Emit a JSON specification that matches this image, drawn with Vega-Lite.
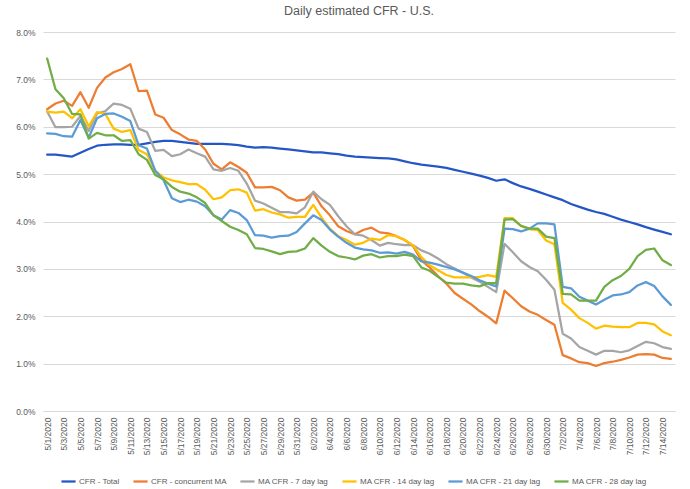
{
  "$schema": "https://vega.github.io/schema/vega-lite/v6.json",
  "width": 632,
  "height": 379,
  "autosize": {"type": "none"},
  "padding": {"left": 43, "top": 32, "right": 15, "bottom": 78},
  "background": "white",
  "title": {"text": "Daily estimated CFR - U.S.", "font": "Liberation Sans", "fontSize": 12.5, "fontWeight": "normal", "color": "#595959", "offset": 11, "anchor": "middle"},
  "config": {"view": {"stroke": null}, "font": "Liberation Sans"},
  "data": {"values": [
    {"d":"5/1/2020","CFR - Total":5.41,"CFR - concurrent MA":6.37,"MA CFR - 7 day lag":6.32,"MA CFR - 14 day lag":6.32,"MA CFR - 21 day lag":5.86,"MA CFR - 28 day lag":7.44},
    {"d":"5/2/2020","CFR - Total":5.41,"CFR - concurrent MA":6.49,"MA CFR - 7 day lag":5.99,"MA CFR - 14 day lag":6.30,"MA CFR - 21 day lag":5.85,"MA CFR - 28 day lag":6.79},
    {"d":"5/3/2020","CFR - Total":5.39,"CFR - concurrent MA":6.55,"MA CFR - 7 day lag":5.99,"MA CFR - 14 day lag":6.32,"MA CFR - 21 day lag":5.80,"MA CFR - 28 day lag":6.60},
    {"d":"5/4/2020","CFR - Total":5.37,"CFR - concurrent MA":6.44,"MA CFR - 7 day lag":6.00,"MA CFR - 14 day lag":6.18,"MA CFR - 21 day lag":5.79,"MA CFR - 28 day lag":6.27},
    {"d":"5/5/2020","CFR - Total":5.45,"CFR - concurrent MA":6.73,"MA CFR - 7 day lag":6.23,"MA CFR - 14 day lag":6.37,"MA CFR - 21 day lag":6.14,"MA CFR - 28 day lag":6.26},
    {"d":"5/6/2020","CFR - Total":5.53,"CFR - concurrent MA":6.40,"MA CFR - 7 day lag":5.91,"MA CFR - 14 day lag":6.01,"MA CFR - 21 day lag":5.77,"MA CFR - 28 day lag":5.75},
    {"d":"5/7/2020","CFR - Total":5.60,"CFR - concurrent MA":6.82,"MA CFR - 7 day lag":6.28,"MA CFR - 14 day lag":6.31,"MA CFR - 21 day lag":6.18,"MA CFR - 28 day lag":5.87},
    {"d":"5/8/2020","CFR - Total":5.62,"CFR - concurrent MA":7.04,"MA CFR - 7 day lag":6.33,"MA CFR - 14 day lag":6.27,"MA CFR - 21 day lag":6.27,"MA CFR - 28 day lag":5.82},
    {"d":"5/9/2020","CFR - Total":5.63,"CFR - concurrent MA":7.15,"MA CFR - 7 day lag":6.49,"MA CFR - 14 day lag":5.96,"MA CFR - 21 day lag":6.28,"MA CFR - 28 day lag":5.82},
    {"d":"5/10/2020","CFR - Total":5.63,"CFR - concurrent MA":7.22,"MA CFR - 7 day lag":6.46,"MA CFR - 14 day lag":5.89,"MA CFR - 21 day lag":6.21,"MA CFR - 28 day lag":5.70},
    {"d":"5/11/2020","CFR - Total":5.62,"CFR - concurrent MA":7.32,"MA CFR - 7 day lag":6.38,"MA CFR - 14 day lag":5.93,"MA CFR - 21 day lag":6.12,"MA CFR - 28 day lag":5.72},
    {"d":"5/12/2020","CFR - Total":5.62,"CFR - concurrent MA":6.75,"MA CFR - 7 day lag":5.96,"MA CFR - 14 day lag":5.51,"MA CFR - 21 day lag":5.61,"MA CFR - 28 day lag":5.42},
    {"d":"5/13/2020","CFR - Total":5.65,"CFR - concurrent MA":6.76,"MA CFR - 7 day lag":5.89,"MA CFR - 14 day lag":5.42,"MA CFR - 21 day lag":5.54,"MA CFR - 28 day lag":5.30},
    {"d":"5/14/2020","CFR - Total":5.68,"CFR - concurrent MA":6.26,"MA CFR - 7 day lag":5.49,"MA CFR - 14 day lag":5.07,"MA CFR - 21 day lag":5.07,"MA CFR - 28 day lag":4.98},
    {"d":"5/15/2020","CFR - Total":5.70,"CFR - concurrent MA":6.19,"MA CFR - 7 day lag":5.51,"MA CFR - 14 day lag":4.93,"MA CFR - 21 day lag":4.87,"MA CFR - 28 day lag":4.89},
    {"d":"5/16/2020","CFR - Total":5.70,"CFR - concurrent MA":5.93,"MA CFR - 7 day lag":5.38,"MA CFR - 14 day lag":4.87,"MA CFR - 21 day lag":4.49,"MA CFR - 28 day lag":4.73},
    {"d":"5/17/2020","CFR - Total":5.68,"CFR - concurrent MA":5.84,"MA CFR - 7 day lag":5.42,"MA CFR - 14 day lag":4.83,"MA CFR - 21 day lag":4.41,"MA CFR - 28 day lag":4.63},
    {"d":"5/18/2020","CFR - Total":5.66,"CFR - concurrent MA":5.73,"MA CFR - 7 day lag":5.52,"MA CFR - 14 day lag":4.79,"MA CFR - 21 day lag":4.46,"MA CFR - 28 day lag":4.59},
    {"d":"5/19/2020","CFR - Total":5.64,"CFR - concurrent MA":5.70,"MA CFR - 7 day lag":5.44,"MA CFR - 14 day lag":4.79,"MA CFR - 21 day lag":4.42,"MA CFR - 28 day lag":4.51},
    {"d":"5/20/2020","CFR - Total":5.64,"CFR - concurrent MA":5.52,"MA CFR - 7 day lag":5.37,"MA CFR - 14 day lag":4.67,"MA CFR - 21 day lag":4.32,"MA CFR - 28 day lag":4.39},
    {"d":"5/21/2020","CFR - Total":5.64,"CFR - concurrent MA":5.22,"MA CFR - 7 day lag":5.10,"MA CFR - 14 day lag":4.47,"MA CFR - 21 day lag":4.13,"MA CFR - 28 day lag":4.13},
    {"d":"5/22/2020","CFR - Total":5.64,"CFR - concurrent MA":5.10,"MA CFR - 7 day lag":5.07,"MA CFR - 14 day lag":4.51,"MA CFR - 21 day lag":4.04,"MA CFR - 28 day lag":4.01},
    {"d":"5/23/2020","CFR - Total":5.63,"CFR - concurrent MA":5.25,"MA CFR - 7 day lag":5.13,"MA CFR - 14 day lag":4.66,"MA CFR - 21 day lag":4.24,"MA CFR - 28 day lag":3.89},
    {"d":"5/24/2020","CFR - Total":5.61,"CFR - concurrent MA":5.15,"MA CFR - 7 day lag":5.07,"MA CFR - 14 day lag":4.68,"MA CFR - 21 day lag":4.18,"MA CFR - 28 day lag":3.82},
    {"d":"5/25/2020","CFR - Total":5.58,"CFR - concurrent MA":5.03,"MA CFR - 7 day lag":4.80,"MA CFR - 14 day lag":4.61,"MA CFR - 21 day lag":4.03,"MA CFR - 28 day lag":3.73},
    {"d":"5/26/2020","CFR - Total":5.56,"CFR - concurrent MA":4.72,"MA CFR - 7 day lag":4.44,"MA CFR - 14 day lag":4.23,"MA CFR - 21 day lag":3.71,"MA CFR - 28 day lag":3.44},
    {"d":"5/27/2020","CFR - Total":5.57,"CFR - concurrent MA":4.72,"MA CFR - 7 day lag":4.38,"MA CFR - 14 day lag":4.26,"MA CFR - 21 day lag":3.70,"MA CFR - 28 day lag":3.42},
    {"d":"5/28/2020","CFR - Total":5.56,"CFR - concurrent MA":4.73,"MA CFR - 7 day lag":4.29,"MA CFR - 14 day lag":4.19,"MA CFR - 21 day lag":3.66,"MA CFR - 28 day lag":3.37},
    {"d":"5/29/2020","CFR - Total":5.54,"CFR - concurrent MA":4.66,"MA CFR - 7 day lag":4.20,"MA CFR - 14 day lag":4.15,"MA CFR - 21 day lag":3.69,"MA CFR - 28 day lag":3.31},
    {"d":"5/30/2020","CFR - Total":5.52,"CFR - concurrent MA":4.51,"MA CFR - 7 day lag":4.20,"MA CFR - 14 day lag":4.08,"MA CFR - 21 day lag":3.70,"MA CFR - 28 day lag":3.36},
    {"d":"5/31/2020","CFR - Total":5.50,"CFR - concurrent MA":4.44,"MA CFR - 7 day lag":4.17,"MA CFR - 14 day lag":4.10,"MA CFR - 21 day lag":3.78,"MA CFR - 28 day lag":3.37},
    {"d":"6/1/2020","CFR - Total":5.48,"CFR - concurrent MA":4.46,"MA CFR - 7 day lag":4.30,"MA CFR - 14 day lag":4.10,"MA CFR - 21 day lag":3.96,"MA CFR - 28 day lag":3.43},
    {"d":"6/2/2020","CFR - Total":5.46,"CFR - concurrent MA":4.61,"MA CFR - 7 day lag":4.63,"MA CFR - 14 day lag":4.35,"MA CFR - 21 day lag":4.13,"MA CFR - 28 day lag":3.65},
    {"d":"6/3/2020","CFR - Total":5.46,"CFR - concurrent MA":4.32,"MA CFR - 7 day lag":4.47,"MA CFR - 14 day lag":4.08,"MA CFR - 21 day lag":4.03,"MA CFR - 28 day lag":3.49},
    {"d":"6/4/2020","CFR - Total":5.44,"CFR - concurrent MA":4.13,"MA CFR - 7 day lag":4.35,"MA CFR - 14 day lag":3.85,"MA CFR - 21 day lag":3.83,"MA CFR - 28 day lag":3.36},
    {"d":"6/5/2020","CFR - Total":5.42,"CFR - concurrent MA":3.90,"MA CFR - 7 day lag":4.11,"MA CFR - 14 day lag":3.69,"MA CFR - 21 day lag":3.68,"MA CFR - 28 day lag":3.27},
    {"d":"6/6/2020","CFR - Total":5.39,"CFR - concurrent MA":3.80,"MA CFR - 7 day lag":3.90,"MA CFR - 14 day lag":3.61,"MA CFR - 21 day lag":3.55,"MA CFR - 28 day lag":3.24},
    {"d":"6/7/2020","CFR - Total":5.37,"CFR - concurrent MA":3.73,"MA CFR - 7 day lag":3.73,"MA CFR - 14 day lag":3.51,"MA CFR - 21 day lag":3.45,"MA CFR - 28 day lag":3.20},
    {"d":"6/8/2020","CFR - Total":5.36,"CFR - concurrent MA":3.82,"MA CFR - 7 day lag":3.70,"MA CFR - 14 day lag":3.55,"MA CFR - 21 day lag":3.41,"MA CFR - 28 day lag":3.28},
    {"d":"6/9/2020","CFR - Total":5.35,"CFR - concurrent MA":3.87,"MA CFR - 7 day lag":3.61,"MA CFR - 14 day lag":3.64,"MA CFR - 21 day lag":3.39,"MA CFR - 28 day lag":3.31},
    {"d":"6/10/2020","CFR - Total":5.34,"CFR - concurrent MA":3.77,"MA CFR - 7 day lag":3.49,"MA CFR - 14 day lag":3.61,"MA CFR - 21 day lag":3.34,"MA CFR - 28 day lag":3.24},
    {"d":"6/11/2020","CFR - Total":5.33,"CFR - concurrent MA":3.75,"MA CFR - 7 day lag":3.55,"MA CFR - 14 day lag":3.71,"MA CFR - 21 day lag":3.35,"MA CFR - 28 day lag":3.27},
    {"d":"6/12/2020","CFR - Total":5.31,"CFR - concurrent MA":3.69,"MA CFR - 7 day lag":3.52,"MA CFR - 14 day lag":3.69,"MA CFR - 21 day lag":3.32,"MA CFR - 28 day lag":3.27},
    {"d":"6/13/2020","CFR - Total":5.27,"CFR - concurrent MA":3.61,"MA CFR - 7 day lag":3.50,"MA CFR - 14 day lag":3.61,"MA CFR - 21 day lag":3.36,"MA CFR - 28 day lag":3.30},
    {"d":"6/14/2020","CFR - Total":5.23,"CFR - concurrent MA":3.48,"MA CFR - 7 day lag":3.50,"MA CFR - 14 day lag":3.50,"MA CFR - 21 day lag":3.30,"MA CFR - 28 day lag":3.27},
    {"d":"6/15/2020","CFR - Total":5.20,"CFR - concurrent MA":3.18,"MA CFR - 7 day lag":3.39,"MA CFR - 14 day lag":3.25,"MA CFR - 21 day lag":3.16,"MA CFR - 28 day lag":3.03},
    {"d":"6/16/2020","CFR - Total":5.18,"CFR - concurrent MA":3.03,"MA CFR - 7 day lag":3.32,"MA CFR - 14 day lag":3.08,"MA CFR - 21 day lag":3.13,"MA CFR - 28 day lag":2.96},
    {"d":"6/17/2020","CFR - Total":5.16,"CFR - concurrent MA":2.85,"MA CFR - 7 day lag":3.22,"MA CFR - 14 day lag":2.97,"MA CFR - 21 day lag":3.09,"MA CFR - 28 day lag":2.83},
    {"d":"6/18/2020","CFR - Total":5.13,"CFR - concurrent MA":2.69,"MA CFR - 7 day lag":3.10,"MA CFR - 14 day lag":2.87,"MA CFR - 21 day lag":3.04,"MA CFR - 28 day lag":2.71},
    {"d":"6/19/2020","CFR - Total":5.09,"CFR - concurrent MA":2.49,"MA CFR - 7 day lag":3.01,"MA CFR - 14 day lag":2.82,"MA CFR - 21 day lag":2.99,"MA CFR - 28 day lag":2.69},
    {"d":"6/20/2020","CFR - Total":5.05,"CFR - concurrent MA":2.37,"MA CFR - 7 day lag":2.92,"MA CFR - 14 day lag":2.82,"MA CFR - 21 day lag":2.92,"MA CFR - 28 day lag":2.69},
    {"d":"6/21/2020","CFR - Total":5.01,"CFR - concurrent MA":2.25,"MA CFR - 7 day lag":2.82,"MA CFR - 14 day lag":2.82,"MA CFR - 21 day lag":2.85,"MA CFR - 28 day lag":2.65},
    {"d":"6/22/2020","CFR - Total":4.97,"CFR - concurrent MA":2.11,"MA CFR - 7 day lag":2.73,"MA CFR - 14 day lag":2.83,"MA CFR - 21 day lag":2.76,"MA CFR - 28 day lag":2.63},
    {"d":"6/23/2020","CFR - Total":4.92,"CFR - concurrent MA":1.99,"MA CFR - 7 day lag":2.62,"MA CFR - 14 day lag":2.87,"MA CFR - 21 day lag":2.69,"MA CFR - 28 day lag":2.70},
    {"d":"6/24/2020","CFR - Total":4.86,"CFR - concurrent MA":1.85,"MA CFR - 7 day lag":2.51,"MA CFR - 14 day lag":2.83,"MA CFR - 21 day lag":2.63,"MA CFR - 28 day lag":2.70},
    {"d":"6/25/2020","CFR - Total":4.89,"CFR - concurrent MA":2.54,"MA CFR - 7 day lag":3.53,"MA CFR - 14 day lag":4.07,"MA CFR - 21 day lag":3.85,"MA CFR - 28 day lag":4.04},
    {"d":"6/26/2020","CFR - Total":4.81,"CFR - concurrent MA":2.38,"MA CFR - 7 day lag":3.35,"MA CFR - 14 day lag":4.07,"MA CFR - 21 day lag":3.84,"MA CFR - 28 day lag":4.05},
    {"d":"6/27/2020","CFR - Total":4.74,"CFR - concurrent MA":2.21,"MA CFR - 7 day lag":3.16,"MA CFR - 14 day lag":3.90,"MA CFR - 21 day lag":3.79,"MA CFR - 28 day lag":3.91},
    {"d":"6/28/2020","CFR - Total":4.69,"CFR - concurrent MA":2.10,"MA CFR - 7 day lag":3.04,"MA CFR - 14 day lag":3.84,"MA CFR - 21 day lag":3.85,"MA CFR - 28 day lag":3.85},
    {"d":"6/29/2020","CFR - Total":4.63,"CFR - concurrent MA":2.03,"MA CFR - 7 day lag":2.95,"MA CFR - 14 day lag":3.82,"MA CFR - 21 day lag":3.96,"MA CFR - 28 day lag":3.85},
    {"d":"6/30/2020","CFR - Total":4.57,"CFR - concurrent MA":1.92,"MA CFR - 7 day lag":2.77,"MA CFR - 14 day lag":3.60,"MA CFR - 21 day lag":3.96,"MA CFR - 28 day lag":3.68},
    {"d":"7/1/2020","CFR - Total":4.51,"CFR - concurrent MA":1.82,"MA CFR - 7 day lag":2.56,"MA CFR - 14 day lag":3.52,"MA CFR - 21 day lag":3.94,"MA CFR - 28 day lag":3.65},
    {"d":"7/2/2020","CFR - Total":4.45,"CFR - concurrent MA":1.18,"MA CFR - 7 day lag":1.63,"MA CFR - 14 day lag":2.28,"MA CFR - 21 day lag":2.62,"MA CFR - 28 day lag":2.47},
    {"d":"7/3/2020","CFR - Total":4.37,"CFR - concurrent MA":1.11,"MA CFR - 7 day lag":1.53,"MA CFR - 14 day lag":2.14,"MA CFR - 21 day lag":2.59,"MA CFR - 28 day lag":2.46},
    {"d":"7/4/2020","CFR - Total":4.31,"CFR - concurrent MA":1.03,"MA CFR - 7 day lag":1.35,"MA CFR - 14 day lag":1.96,"MA CFR - 21 day lag":2.41,"MA CFR - 28 day lag":2.33},
    {"d":"7/5/2020","CFR - Total":4.25,"CFR - concurrent MA":1.01,"MA CFR - 7 day lag":1.27,"MA CFR - 14 day lag":1.86,"MA CFR - 21 day lag":2.33,"MA CFR - 28 day lag":2.33},
    {"d":"7/6/2020","CFR - Total":4.20,"CFR - concurrent MA":0.95,"MA CFR - 7 day lag":1.19,"MA CFR - 14 day lag":1.74,"MA CFR - 21 day lag":2.25,"MA CFR - 28 day lag":2.33},
    {"d":"7/7/2020","CFR - Total":4.16,"CFR - concurrent MA":1.01,"MA CFR - 7 day lag":1.27,"MA CFR - 14 day lag":1.80,"MA CFR - 21 day lag":2.35,"MA CFR - 28 day lag":2.62},
    {"d":"7/8/2020","CFR - Total":4.10,"CFR - concurrent MA":1.04,"MA CFR - 7 day lag":1.27,"MA CFR - 14 day lag":1.78,"MA CFR - 21 day lag":2.44,"MA CFR - 28 day lag":2.76},
    {"d":"7/9/2020","CFR - Total":4.04,"CFR - concurrent MA":1.08,"MA CFR - 7 day lag":1.24,"MA CFR - 14 day lag":1.77,"MA CFR - 21 day lag":2.46,"MA CFR - 28 day lag":2.85},
    {"d":"7/10/2020","CFR - Total":3.99,"CFR - concurrent MA":1.13,"MA CFR - 7 day lag":1.28,"MA CFR - 14 day lag":1.77,"MA CFR - 21 day lag":2.51,"MA CFR - 28 day lag":3.00},
    {"d":"7/11/2020","CFR - Total":3.94,"CFR - concurrent MA":1.19,"MA CFR - 7 day lag":1.37,"MA CFR - 14 day lag":1.86,"MA CFR - 21 day lag":2.65,"MA CFR - 28 day lag":3.27},
    {"d":"7/12/2020","CFR - Total":3.88,"CFR - concurrent MA":1.20,"MA CFR - 7 day lag":1.46,"MA CFR - 14 day lag":1.86,"MA CFR - 21 day lag":2.72,"MA CFR - 28 day lag":3.40},
    {"d":"7/13/2020","CFR - Total":3.83,"CFR - concurrent MA":1.19,"MA CFR - 7 day lag":1.43,"MA CFR - 14 day lag":1.83,"MA CFR - 21 day lag":2.64,"MA CFR - 28 day lag":3.43},
    {"d":"7/14/2020","CFR - Total":3.78,"CFR - concurrent MA":1.12,"MA CFR - 7 day lag":1.35,"MA CFR - 14 day lag":1.68,"MA CFR - 21 day lag":2.42,"MA CFR - 28 day lag":3.18},
    {"d":"7/15/2020","CFR - Total":3.73,"CFR - concurrent MA":1.10,"MA CFR - 7 day lag":1.31,"MA CFR - 14 day lag":1.60,"MA CFR - 21 day lag":2.24,"MA CFR - 28 day lag":3.08}
  ]},
  "transform": [
    {"fold": ["CFR - Total", "CFR - concurrent MA", "MA CFR - 7 day lag", "MA CFR - 14 day lag", "MA CFR - 21 day lag", "MA CFR - 28 day lag"], "as": ["series", "v"]}
  ],
  "mark": {"type": "line", "strokeWidth": 2.25, "strokeJoin": "round", "strokeCap": "round"},
  "encoding": {
    "x": {
      "field": "d", "type": "ordinal", "sort": null,
      "scale": {"type": "point", "padding": 0.5},
      "axis": {
        "title": null, "labelAngle": -90, "labelFontSize": 8.5, "labelColor": "#595959",
        "ticks": false, "domainColor": "#d9d9d9", "domainWidth": 1, "labelPadding": 6,
        "values": ["5/1/2020","5/3/2020","5/5/2020","5/7/2020","5/9/2020","5/11/2020","5/13/2020","5/15/2020","5/17/2020","5/19/2020","5/21/2020","5/23/2020","5/25/2020","5/27/2020","5/29/2020","5/31/2020","6/2/2020","6/4/2020","6/6/2020","6/8/2020","6/10/2020","6/12/2020","6/14/2020","6/16/2020","6/18/2020","6/20/2020","6/22/2020","6/24/2020","6/26/2020","6/28/2020","6/30/2020","7/2/2020","7/4/2020","7/6/2020","7/8/2020","7/10/2020","7/12/2020","7/14/2020"]
      }
    },
    "y": {
      "field": "v", "type": "quantitative",
      "scale": {"domain": [0, 8], "nice": false, "zero": true},
      "axis": {
        "title": null, "values": [0,1,2,3,4,5,6,7,8], "labelExpr": "format(datum.value, '.1f') + '%'",
        "labelFontSize": 8.5, "labelColor": "#595959", "ticks": false, "domain": false,
        "gridColor": "#d9d9d9", "gridWidth": 1, "labelPadding": 8
      }
    },
    "color": {
      "field": "series", "type": "nominal",
      "scale": {
        "domain": ["CFR - Total", "CFR - concurrent MA", "MA CFR - 7 day lag", "MA CFR - 14 day lag", "MA CFR - 21 day lag", "MA CFR - 28 day lag"],
        "range": ["#2457C5", "#ED7D31", "#A5A5A5", "#FFC000", "#5B9BD5", "#70AD47"]
      },
      "legend": {
        "title": null, "orient": "none", "legendX": 17, "legendY": 441, "direction": "horizontal", "symbolType": "stroke",
        "symbolStrokeWidth": 2.25, "symbolSize": 200, "labelFontSize": 8, "labelColor": "#595959",
        "columnPadding": 8, "symbolOffset": 0, "labelOffset": 2
      }
    }
  }
}
